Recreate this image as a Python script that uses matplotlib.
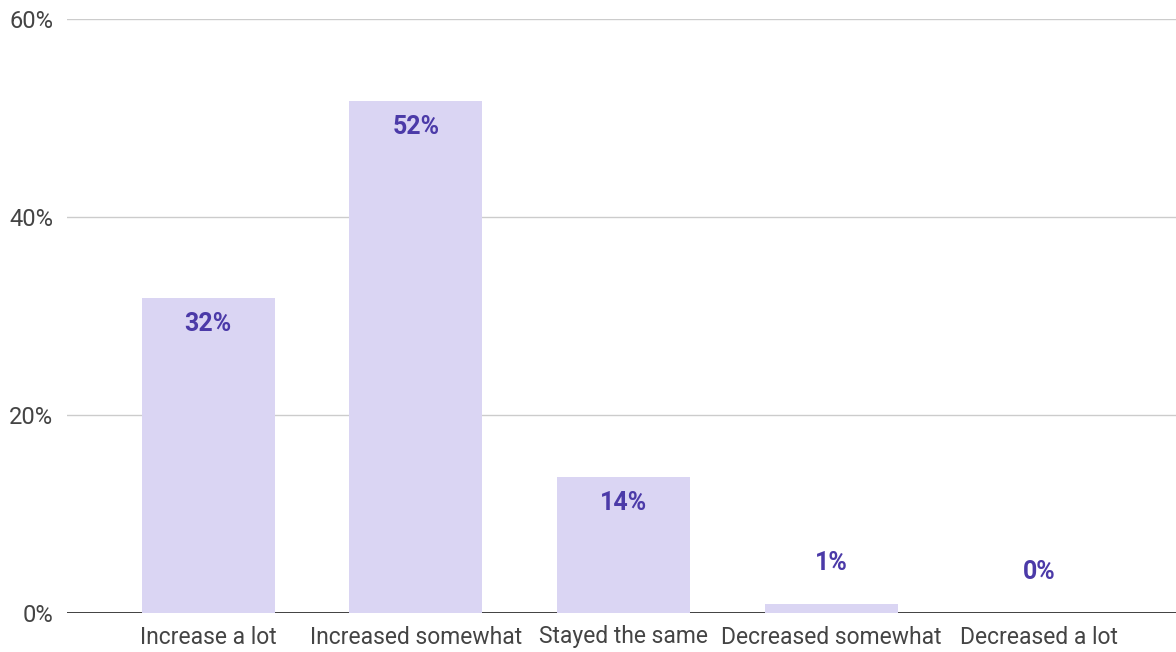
import numpy as np
import matplotlib.pyplot as plt

categories = ["Increase a lot", "Increased somewhat", "Stayed the same",
              "Decreased somewhat", "Decreased a lot"]
values = [31.8, 51.7, 13.7, 0.9, 0.0]
labels = ["32%", "52%", "14%", "1%", "0%"]
yticks = [0, 20, 40, 60]

plt.rcParams['font.family'] = ['Roboto', 'DejaVu Sans']

fig = plt.figure(figsize=(11.76, 6.52), dpi=100)
ax = fig.add_axes([67 / 1176, 39 / 652, 1 - 67 / 1176, (613 - 19) / 652])

x = np.arange(len(categories))
bars = ax.bar(x, values, width=0.64, color='#dad5f3', zorder=3)

# value labels: inside the bar when tall enough, above otherwise
for xi, v, lab in zip(x, values, labels):
    if v >= 5:
        ax.annotate(lab, (xi, v), xytext=(0, -18.5), textcoords='offset points',
                    ha='center', va='center', fontsize=18, fontweight='bold',
                    color='#4b3aa8', zorder=4)
    else:
        ax.annotate(lab, (xi, v), xytext=(0, 29.5), textcoords='offset points',
                    ha='center', va='center', fontsize=18, fontweight='bold',
                    color='#4b3aa8', zorder=4)

ax.set_xlim(-0.68, 4.66)
ax.set_ylim(0, 60)
ax.set_yticks(yticks)
ax.set_yticklabels([f"{t}%" for t in yticks])
ax.set_xticks(x)
ax.set_xticklabels(categories)

ax.grid(axis='y', color='#cccccc', lw=1.0, zorder=0)
ax.axhline(0, color='#333333', lw=1.3, zorder=2)
for s in ax.spines.values():
    s.set_visible(False)
ax.tick_params(axis='both', length=0, colors='#444444')
ax.tick_params(axis='x', pad=9, labelsize=16.5)
ax.tick_params(axis='y', pad=10, labelsize=17)

plt.savefig('out.png', dpi=100)
